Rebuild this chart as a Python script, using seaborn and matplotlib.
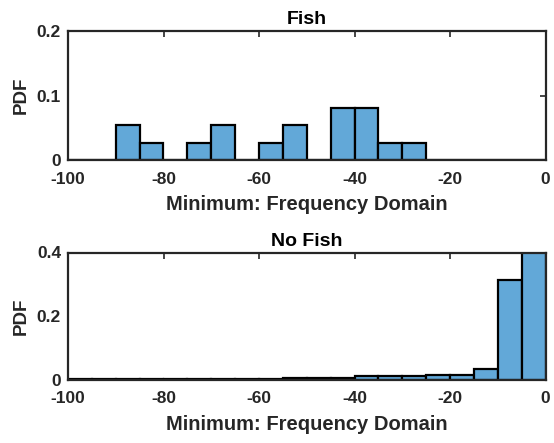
import matplotlib
matplotlib.use("Agg")
import matplotlib.pyplot as plt
import seaborn as sns
import pandas as pd

# Bin edges (width 5) from -100 to 0
bin_edges = list(range(-100, 1, 5))
bin_left = bin_edges[:-1]

# Fish PDF per bin (left edges -100 .. -5)
fish_pdf = [0, 0, 0.054, 0.027, 0, 0.027, 0.054, 0, 0.027, 0.054,
            0, 0.081, 0.081, 0.027, 0.027, 0, 0, 0, 0, 0]
# No Fish PDF per bin (left edges -100 .. -5)
nofish_pdf = [0.001, 0.001, 0.001, 0.001, 0.002, 0.002, 0.003, 0.003, 0.003, 0.004,
              0.004, 0.006, 0.010, 0.011, 0.012, 0.013, 0.015, 0.034, 0.312, 0.40]

titles = ["Fish", "No Fish"]
xlabel = "Minimum: Frequency Domain"
ylabel = "PDF"
x_ticks = [-100, -80, -60, -40, -20, 0]
y_ticks_top = [0, 0.1, 0.2]
y_ticks_bot = [0, 0.2, 0.4]

sns.set_theme(style="white")
plt.rcParams['font.family'] = ['Liberation Sans', 'DejaVu Sans']
plt.rcParams['font.weight'] = 'bold'

bar_color = "#62A8D8"
text_color = "#262626"

fig = plt.figure(figsize=(5.54, 4.43), dpi=100)
ax1 = fig.add_axes([68/554, 1-160/443, (545.5-68)/554, (160-31)/443])
ax2 = fig.add_axes([68/554, 1-379.5/443, (545.5-68)/554, (379.5-252.5)/443])

centers = [b + 2.5 for b in bin_left]

for ax, vals, title, yt, ylim in [(ax1, fish_pdf, titles[0], y_ticks_top, 0.2),
                                   (ax2, nofish_pdf, titles[1], y_ticks_bot, 0.4)]:
    df = pd.DataFrame({"x": centers, "w": vals})
    sns.histplot(data=df, x="x", weights="w", bins=bin_edges, stat="count",
                 color=bar_color, alpha=1.0, edgecolor="black", linewidth=1.6, ax=ax)
    ax.set_xlim(-100, 0)
    ax.set_ylim(0, ylim)
    ax.set_xticks(x_ticks)
    ax.set_xticklabels([str(t) for t in x_ticks])
    ax.set_yticks(yt)
    ax.set_yticklabels(["0" if t == 0 else f"{t:g}" for t in yt])
    ax.tick_params(direction="in", length=4, width=1.2, top=True, right=True,
                   labelsize=12.5, colors=text_color)
    ax.tick_params(axis="x", pad=8.5)
    ax.tick_params(axis="y", pad=5)
    for lab in ax.get_xticklabels() + ax.get_yticklabels():
        lab.set_fontweight('bold')
        lab.set_color(text_color)
    for s in ax.spines.values():
        s.set_linewidth(1.6)
        s.set_color(text_color)
    ax.set_xlabel(xlabel, fontsize=14.5, fontweight='bold', color=text_color, labelpad=6)
    ax.set_ylabel(ylabel, fontsize=13.5, fontweight='bold', color=text_color, labelpad=5)
    ax.set_title(title, fontsize=14, fontweight='bold', color='black', pad=5)

fig.savefig("out.png", dpi=100)
